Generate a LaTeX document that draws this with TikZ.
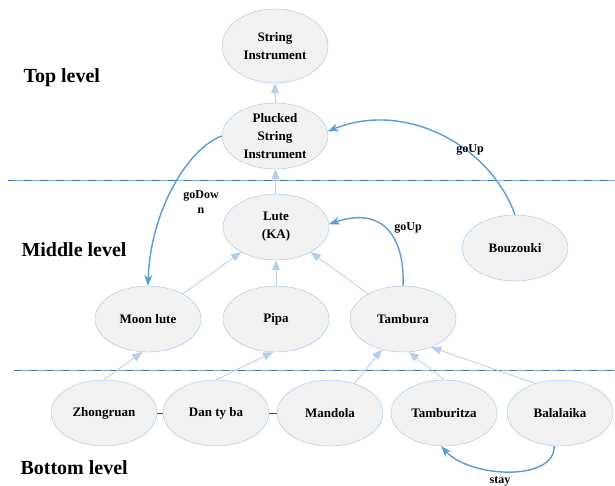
\documentclass[tikz,border=0pt]{standalone}
\usepackage{fontspec}
\setmainfont{Liberation Serif}
\usepackage{tikz}
\usetikzlibrary{shapes,arrows.meta,positioning}
\definecolor{nodefill}{RGB}{241,241,241}
\definecolor{nodeline}{RGB}{157,195,230}
\definecolor{isaline}{RGB}{184,204,232}
\definecolor{moveline}{RGB}{91,155,213}
\definecolor{sepdark}{RGB}{62,112,168}
\definecolor{seplight}{RGB}{140,176,214}

\begin{document}
\begin{tikzpicture}[x=1pt, y=-1pt, font=\bfseries\fontsize{13}{18}\selectfont,
	inst/.style={ellipse, draw=nodeline, fill=nodefill, minimum width=106pt, minimum height=66pt, inner sep=0pt, align=center},
	isa/.style={draw=isaline, line width=0.8pt, -{Triangle[length=10pt,width=8pt]}},
	move/.style={draw=moveline, line width=1.4pt, -{Stealth[length=11pt,width=8pt]}},
	lvl/.style={anchor=west, font=\bfseries\fontsize{20}{24}\selectfont},
	lbl/.style={align=center, font=\bfseries\fontsize{12}{15}\selectfont}]
	\useasboundingbox (0,0) rectangle (615,485);
	% level separators
	\foreach \y/\x in {180/8, 370/14}{
		\draw[seplight, line width=1pt] (\x,\y) -- (615,\y);
		\draw[sepdark, line width=1pt, dash pattern=on 7pt off 9pt] (\x,\y) -- (615,\y);}
	\node[lvl] (top) at (20,78) {Top level};
	\node[lvl] (middle) at (18,250) {Middle level};
	\node[lvl] (bottom) at (17,468) {Bottom level};
	% instruments
	\node[inst, minimum height=74pt] (string) at (275,46) {String\\Instrument};
	\node[inst] (plucked) at (275,136) {Plucked\\String\\Instrument};
	\node[inst] (lute) at (276,227) {Lute\\(KA)};
	\node[inst] (bouzouki) at (515,248) {Bouzouki};
	\node[inst] (moon) at (148,319) {Moon lute};
	\node[inst] (pipa) at (276,319) {Pipa};
	\node[inst] (tambura) at (403,319) {Tambura};
	\foreach \name/\x/\txt in {zhongruan/104/Zhongruan, danba/216/Dan ty ba, mandola/330/Mandola, tamburitza/444/Tamburitza, balalaika/560/Balalaika}
		\node[inst] (\name) at (\x,413) {\txt};
	% is-a links
	\draw[isa] (plucked) -- (string);
	\draw[isa] (lute) -- (plucked);
	\draw[isa] (moon) -- (lute);
	\draw[isa] (pipa) -- (lute);
	\draw[isa] (tambura) -- (lute);
	\draw[isa] (zhongruan.north) -- (moon.-100);
	\draw[isa] (danba.north) -- (pipa.-95);
	\draw[isa] (mandola.50) -- (tambura.-125);
	\draw[isa] (tamburitza.north) -- (tambura.-80);
	\draw[isa] (balalaika.130) -- (tambura.-45);
	\draw[black!70] (zhongruan) -- (danba);
	\draw[black!70] (danba) -- (mandola);
	% moves
	\draw[move] (plucked.west) .. controls (185,150) and (150,215) .. (moon.north);
	\node[lbl] (godown) at (201,202) {goDow\\n};
	\draw[move] (bouzouki.north) .. controls (490,145) and (405,100) .. (plucked.5);
	\node[lbl] (goup1) at (470,150) {goUp};
	\draw[move] (tambura.north) .. controls (405,240) and (385,205) .. (lute.3);
	\node[lbl] (goup2) at (408,228) {goUp};
	\draw[move] (balalaika.-100) .. controls (555,482) and (470,478) .. (tamburitza.-95);
	\node[lbl] (stay) at (500,481) {stay};
\end{tikzpicture}
\end{document}
